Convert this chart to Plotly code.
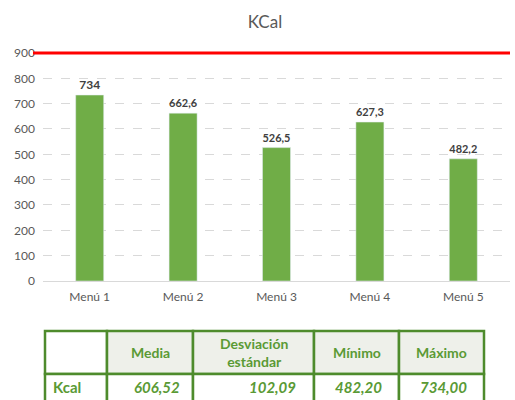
import plotly.graph_objects as go

menus = ["Menú 1", "Menú 2", "Menú 3", "Menú 4", "Menú 5"]
kcal = [734, 662.6, 526.5, 627.3, 482.2]
limit = 900

stat_headers = ["", "Media", "Desviación<br>estándar", "Mínimo", "Máximo"]
stat_row = ["Kcal", "606,52", "102,09", "482,20", "734,00"]

GREEN = "#70ad47"
DARK_GREEN = "#4e8b2c"
TXT_GREEN = "#5a9a35"
HEAD_FILL = "#eef0ea"
GREY = "#595959"
FONT = "Lato"

W, H = 515, 400
Y_TOP = 910  # small headroom so the limit line is not clipped


def fmt(v):
    # excel-style labels with comma decimals
    if float(v).is_integer():
        return str(int(v))
    return f"{v:.1f}".replace(".", ",")


def px(x):
    return x / W


def py(y):
    return 1 - y / H


fig = go.Figure()
fig.add_trace(
    go.Bar(
        x=menus,
        y=kcal,
        marker_color=GREEN,
        text=[fmt(v) for v in kcal],
        textposition="outside",
        textfont=dict(family=FONT, size=12, color="#404040", weight="bold"),
        cliponaxis=False,
        showlegend=False,
    )
)

# reference limit line
fig.add_shape(
    type="line",
    xref="paper",
    yref="y",
    x0=px(33),
    x1=px(510),
    y0=limit,
    y1=limit,
    line=dict(color="#ff0000", width=3),
)

# summary table drawn below the chart
col_w = [62, 86, 121, 85, 85]
left = 45
row_y = [331, 374, 403]
edges = [left]
for w in col_w:
    edges.append(edges[-1] + w)
aligns = ["left", "center", "right", "center", "center"]

for i in range(len(col_w)):
    x0, x1 = edges[i], edges[i + 1]
    fill = "white" if i == 0 else HEAD_FILL
    fig.add_shape(
        type="rect", xref="paper", yref="paper",
        x0=px(x0), x1=px(x1), y0=py(row_y[1]), y1=py(row_y[0]),
        fillcolor=fill, line=dict(color=DARK_GREEN, width=2.5), layer="above",
    )
    fig.add_shape(
        type="rect", xref="paper", yref="paper",
        x0=px(x0), x1=px(x1), y0=py(row_y[2]), y1=py(row_y[1]),
        fillcolor="white", line=dict(color=DARK_GREEN, width=2.5), layer="above",
    )
    if stat_headers[i]:
        fig.add_annotation(
            x=px((x0 + x1) / 2), y=py((row_y[0] + row_y[1]) / 2),
            xref="paper", yref="paper", showarrow=False,
            xanchor="center", yanchor="middle",
            text=f"<b>{stat_headers[i]}</b>",
            font=dict(family=FONT, size=14, color=TXT_GREEN),
            align="center",
        )
    a = aligns[i]
    if a == "left":
        ax, anchor = x0 + 6, "left"
    elif a == "right":
        ax, anchor = x1 - 16, "right"
    else:
        ax, anchor = (x0 + x1) / 2 + (7 if i == 1 else 2), "center"
    txt = f"<b>{stat_row[i]}</b>" if i == 0 else f"<b><i>{stat_row[i]}</i></b>"
    fig.add_annotation(
        x=px(ax), y=py(387),
        xref="paper", yref="paper", showarrow=False,
        xanchor=anchor, yanchor="middle",
        text=txt,
        font=dict(family=FONT, size=15, color=TXT_GREEN),
    )

# plot area: 0 at y=281px, 900 at y=53px
zero_px, limit_px = 281, 53
top_px = limit_px - (Y_TOP - limit) * (zero_px - limit_px) / limit

fig.update_layout(
    width=W,
    height=H,
    margin=dict(l=0, r=0, t=0, b=0),
    paper_bgcolor="white",
    plot_bgcolor="white",
    font=dict(family=FONT, color=GREY),
    title=dict(
        text="KCal",
        x=px(265),
        xanchor="center",
        y=py(22),
        yanchor="middle",
        font=dict(family=FONT, size=17, color=GREY),
    ),
    bargap=0.7,
    xaxis=dict(
        domain=[px(43), px(510)],
        automargin=False,
        showline=True,
        linecolor="#d9d9d9",
        tickfont=dict(size=12, color=GREY),
        ticks="",
        ticklabelstandoff=5,
    ),
    yaxis=dict(
        domain=[py(zero_px), py(top_px)],
        automargin=False,
        range=[0, Y_TOP],
        tick0=0,
        dtick=100,
        showgrid=True,
        gridcolor="#d9d9d9",
        griddash="dash",
        zeroline=False,
        tickfont=dict(size=12, color=GREY),
        ticklabelstandoff=7,
    ),
)

fig.write_html(
    "out.html",
    config={"displayModeBar": False},
    post_script="document.body.style.margin='0';",
)
